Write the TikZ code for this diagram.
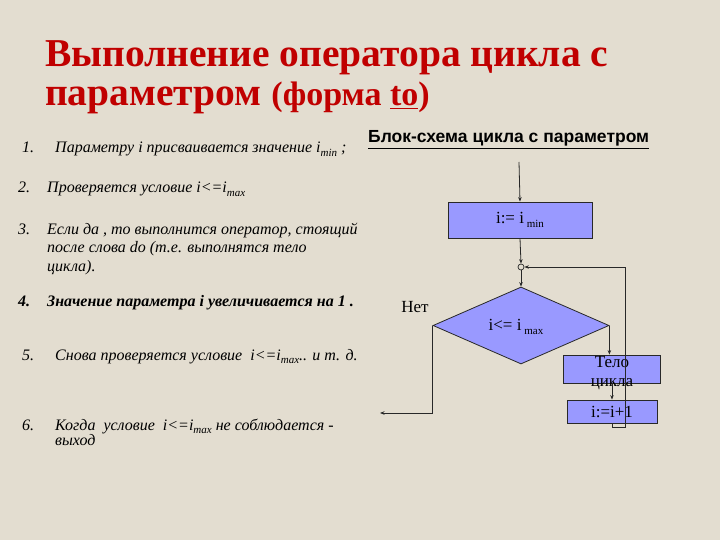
\documentclass[tikz,border=0pt]{standalone}
\usepackage{fontspec}
\setmainfont{Liberation Serif}
\newfontfamily\arialfont{Liberation Sans}
\usetikzlibrary{arrows.meta,shapes.geometric,calc}
\definecolor{bg}{RGB}{227,221,208}
\definecolor{titlered}{RGB}{192,0,0}
\definecolor{boxblue}{RGB}{153,153,255}
\definecolor{linec}{RGB}{40,40,40}
\begin{document}
\begin{tikzpicture}[x=1pt,y=-1pt,
  titletxt/.style={anchor=base west,inner sep=0,text=titlered,font=\bfseries\fontsize{39.5}{44}\selectfont},
  itemtxt/.style={anchor=base west,inner sep=0,font=\itshape\fontsize{16}{18}\selectfont},
  itembold/.style={anchor=base west,inner sep=0,font=\bfseries\itshape\fontsize{16}{18}\selectfont},
  numtxt/.style={anchor=base west,inner sep=0,font=\itshape\fontsize{16}{18}\selectfont},
  blk/.style={draw=linec,fill=boxblue,line width=0.8pt,inner sep=0},
  flowtxt/.style={inner sep=0,font=\fontsize{17}{19}\selectfont},
  arr/.style={draw=linec,line width=0.8pt,-{Stealth[length=4.5pt,width=3.5pt]}},
  ln/.style={draw=linec,line width=0.8pt}]
\fill[bg] (0,0) rectangle (720,540);
\useasboundingbox (0,0) rectangle (720,540);

% title
\node[titletxt] (t1) at (45,67) {Выполнение оператора цикла с};
\node[titletxt] (t2) at (45,106) {параметром {\fontsize{34}{38}\selectfont (форма \underline{to})}};

% list
\newcommand{\sbs}[1]{\raisebox{-0.45ex}{\fontsize{11}{12}\selectfont #1}}
\node[numtxt] (n1) at (22,153) {1.};
\node[itemtxt] (i1) at (55,153) {Параметру i присваивается значение i\sbs{min} ;};
\node[numtxt] (n2) at (18,193) {2.};
\node[itemtxt] (i2) at (47,193) {Проверяется условие i<=i\sbs{max}};
\node[numtxt] (n3) at (18,234) {3.};
\node[itemtxt] (i3a) at (47,234) {Если да , то выполнится оператор, стоящий};
\node[itemtxt] (i3b) at (47,252.5) {после слова do (т.е. выполнятся тело};
\node[itemtxt] (i3c) at (47,271) {цикла).};
\node[itembold] (n4) at (18,306) {4.};
\node[itembold] (i4) at (47,306) {Значение параметра i увеличивается на 1 .};
\node[numtxt] (n5) at (22,360) {5.};
\node[itemtxt] (i5) at (55,360) {Снова проверяется условие\ \ i<=i\sbs{max}.. и т. д.};
\node[numtxt] (n6) at (22,430) {6.};
\node[itemtxt] (i6a) at (55,430) {Когда\ \ условие\ \ i<=i\sbs{max} не соблюдается -};
\node[itemtxt] (i6b) at (55,445) {выход};

% header
\node[anchor=base west,inner sep=0,font=\arialfont\bfseries\fontsize{17.5}{20}\selectfont] (hdr) at (368,143) {\underline{Блок-схема цикла с параметром}};

% flowchart
\coordinate (in) at (519,162);
\node[blk,minimum width=144pt,minimum height=36pt] (b1) at (520,220) {};
\node[flowtxt] (b1t) at (520,220) {i:= i\,\raisebox{-0.55ex}{\fontsize{11}{12}\selectfont min}};
\node[circle,draw=linec,fill=bg,line width=0.7pt,inner sep=0,minimum size=6pt] (c) at (521,267) {};
\node[diamond,blk,minimum width=176pt,minimum height=77pt] (d) at (521,325.5) {};
\node[flowtxt] (dt) at (516,327) {i<= i\,\raisebox{-0.55ex}{\fontsize{11}{12}\selectfont max}};
\node[blk,minimum width=97pt,minimum height=28pt] (tb) at (612,369) {};
\node[flowtxt,anchor=base] (tt1) at (612,367) {Тело};
\node[flowtxt,anchor=base] (tt2) at (612,386) {цикла};
\node[blk,minimum width=90pt,minimum height=23pt] (ib) at (612,411.5) {};
\node[flowtxt,anchor=base] (ibt) at (612,417) {i:=i+1};
\node[inner sep=0,anchor=base,font=\fontsize{17}{19}\selectfont] (no) at (415,312) {Нет};
\coordinate (lr) at (625,427);
\coordinate (out) at (380,413);

\draw[arr] (in) -- (b1.north);
\draw[arr] (b1.south) -- (c.north);
\draw[arr] (c.south) -- (d.north);
\draw[arr] (d.east) -- (d.east |- tb.north);
\draw[arr] (tb.south -| ib.north) -- (ib.north);
\draw[arr] (ib.south) |- (lr) |- (c.east);
\draw[arr] (d.west) |- (out);
\end{tikzpicture}
\end{document}
